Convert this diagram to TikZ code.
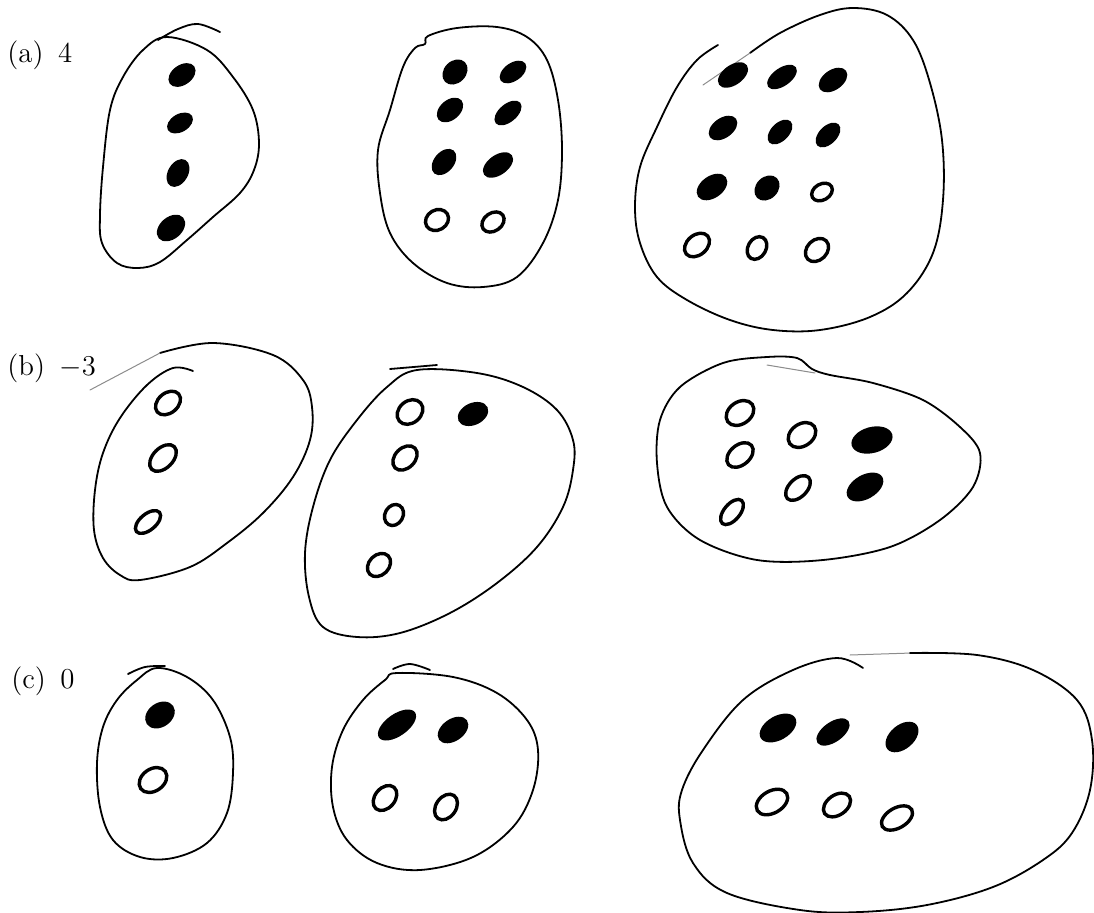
\documentclass[tikz,border=0pt]{standalone}
\tikzset{
  outline/.style={line width=0.9bp, line join=round, line cap=round},
  faintline/.style={line width=0.5bp, black!45, line cap=round},
  fulldot/.style={fill=black},
  opendot/.style={draw=black, line width=1.7bp},
  lbl/.style={anchor=base west, inner sep=0pt, font=\fontsize{14.5}{17}\selectfont}
}
\newcommand\fd[5]{\fill[fulldot, rotate around={#3:(#1,#2)}] (#1,#2) ellipse (#4 and #5);}
\newcommand\od[5]{\draw[opendot, rotate around={#3:(#1,#2)}] (#1,#2) ellipse (#4 and #5);}
\begin{document}
\begin{tikzpicture}[x=0.5bp,y=-0.5bp]
\useasboundingbox (0,0) rectangle (1094,913);
% labels
\node[lbl] (la) at (7,62) {(a)\enspace 4};
\node[lbl] (lb) at (7,375) {(b)\enspace $-3$};
\node[lbl] (lc) at (11,688) {(c)\enspace 0};

% ---------- row (a) ----------
\draw[outline] plot[smooth cycle, tension=0.6] coordinates {(167,37) (207,50) (233,77) (253,110) (259,143) (254,170) (240,193) (213,217) (187,240) (160,262) (138,268) (117,263) (102,243) (100,215) (103,167) (110,110) (123,77) (143,50)};
\draw[outline] plot[smooth, tension=0.6] coordinates {(158,40) (178,29) (198,24) (220,32)};
\fd{182}{75}{35}{15}{10}
\fd{180}{123}{30}{14}{9}
\fd{178}{173}{60}{15}{10}
\fd{171}{228}{40}{16}{11}

\draw[outline] plot[smooth cycle, tension=0.6] coordinates {(428,36) (457,28) (497,27) (527,37) (547,60) (558,100) (562,150) (558,200) (543,243) (517,277) (483,287) (447,283) (413,263) (390,233) (380,193) (378,150) (390,110) (403,67) (415,48) (425,44)};
\fd{455}{72}{45}{14}{11}
\fd{513}{72}{35}{15}{9}
\fd{450}{110}{40}{15}{10}
\fd{508}{113}{40}{16}{9}
\fd{444}{162}{50}{15}{10}
\fd{498}{165}{35}{17}{10}
\od{437}{220}{30}{12}{10}
\od{493}{222}{35}{12}{9}

\draw[outline] plot[smooth, tension=0.6] coordinates {(718,45) (697,60) (677,87) (657,127) (640,167) (635,207) (640,243) (657,277) (687,300) (730,320) (773,330) (820,330) (870,317) (907,293) (933,253) (943,200) (942,140) (930,83) (913,40) (887,15) (853,8) (820,15) (780,33) (750,53)};
\draw[faintline] (750,53) -- (703,85);
\fd{733}{75}{35}{17}{10}
\fd{782}{77}{35}{17}{9}
\fd{833}{80}{35}{16}{10}
\fd{723}{128}{35}{16}{10}
\fd{780}{132}{45}{15}{9}
\fd{828}{135}{45}{15}{9}
\fd{712}{187}{35}{17}{11}
\fd{767}{188}{45}{14}{11}
\od{822}{192}{30}{11}{8}
\od{697}{245}{40}{14}{10}
\od{757}{248}{60}{12}{9}
\od{817}{250}{45}{13}{10}

% ---------- row (b) ----------
\draw[outline] plot[smooth, tension=0.6] coordinates {(193,371) (173,368) (147,385) (120,418) (103,453) (95,490) (94,530) (103,558) (120,575) (140,580) (190,567) (227,543) (263,513) (293,477) (310,440) (312,407) (303,380) (273,355) (213,343) (160,353)};
\draw[faintline] (160,353) -- (90,390);
\od{168}{403}{40}{14}{10}
\od{163}{458}{45}{16}{10}
\od{148}{522}{40}{15}{8}

\draw[outline] plot[smooth cycle, tension=0.6] coordinates {(417,370) (477,373) (523,387) (557,410) (573,440) (573,470) (563,507) (537,547) (497,583) (450,613) (400,633) (357,637) (323,627) (309,597) (305,553) (313,507) (330,460) (357,420) (387,387)};
\draw[outline] (390,369) -- (437,365);
\od{410}{412}{40}{14}{11}
\fd{473}{414}{25}{16}{11}
\od{405}{458}{45}{14}{10}
\od{394}{515}{60}{11}{9}
\od{379}{565}{45}{13}{10}

\draw[outline] plot[smooth cycle, tension=0.55] coordinates {(660,420) (680,387) (723,363) (767,357) (797,358) (812,369) (830,375) (873,383) (923,400) (960,427) (980,453) (973,487) (940,520) (890,547) (823,560) (757,560) (700,540) (667,507) (657,463)};
\draw[faintline] (767,365) -- (815,373);
\od{740}{413}{35}{15}{11}
\od{802}{435}{35}{15}{11}
\fd{872}{440}{15}{21}{13}
\od{740}{455}{40}{15}{10}
\od{798}{488}{45}{15}{9}
\fd{865}{487}{30}{20}{12}
\od{732}{512}{50}{15}{8}

% ---------- row (c) ----------
\draw[outline] plot[smooth cycle, tension=0.6] coordinates {(157,668) (187,677) (213,700) (230,737) (233,773) (227,813) (207,843) (173,858) (140,857) (113,840) (100,807) (97,763) (103,727) (117,700) (137,680)};
\draw[outline] plot[smooth, tension=0.6] coordinates {(128,674) (145,667) (165,666)};
\fd{160}{715}{35}{16}{12}
\od{153}{780}{35}{15}{11}

\draw[outline] plot[smooth cycle, tension=0.6] coordinates {(397,673) (453,677) (497,693) (527,720) (538,750) (533,790) (513,827) (473,857) (420,870) (377,863) (347,840) (333,807) (332,767) (343,730) (363,700) (385,680)};
\draw[outline] plot[smooth, tension=0.6] coordinates {(393,669) (410,664) (430,670)};
\fd{397}{725}{35}{22}{11}
\fd{453}{730}{35}{17}{11}
\od{385}{798}{50}{14}{10}
\od{446}{807}{55}{14}{10}

\draw[faintline] (850,655) -- (912,653);
\draw[outline] plot[smooth, tension=0.6] coordinates {(910,653) (977,655) (1033,670) (1077,700) (1092,740) (1090,790) (1072,833) (1043,860) (993,887) (927,905) (860,912) (800,910) (727,893) (693,863) (680,820) (682,790) (703,750) (743,700) (793,670) (837,658) (863,668)};
\fd{778}{728}{30}{20}{12}
\fd{833}{732}{35}{19}{10}
\fd{902}{737}{40}{19}{12}
\od{772}{802}{30}{17}{11}
\od{837}{805}{35}{15}{10}
\od{897}{818}{30}{17}{10}
\end{tikzpicture}
\end{document}
